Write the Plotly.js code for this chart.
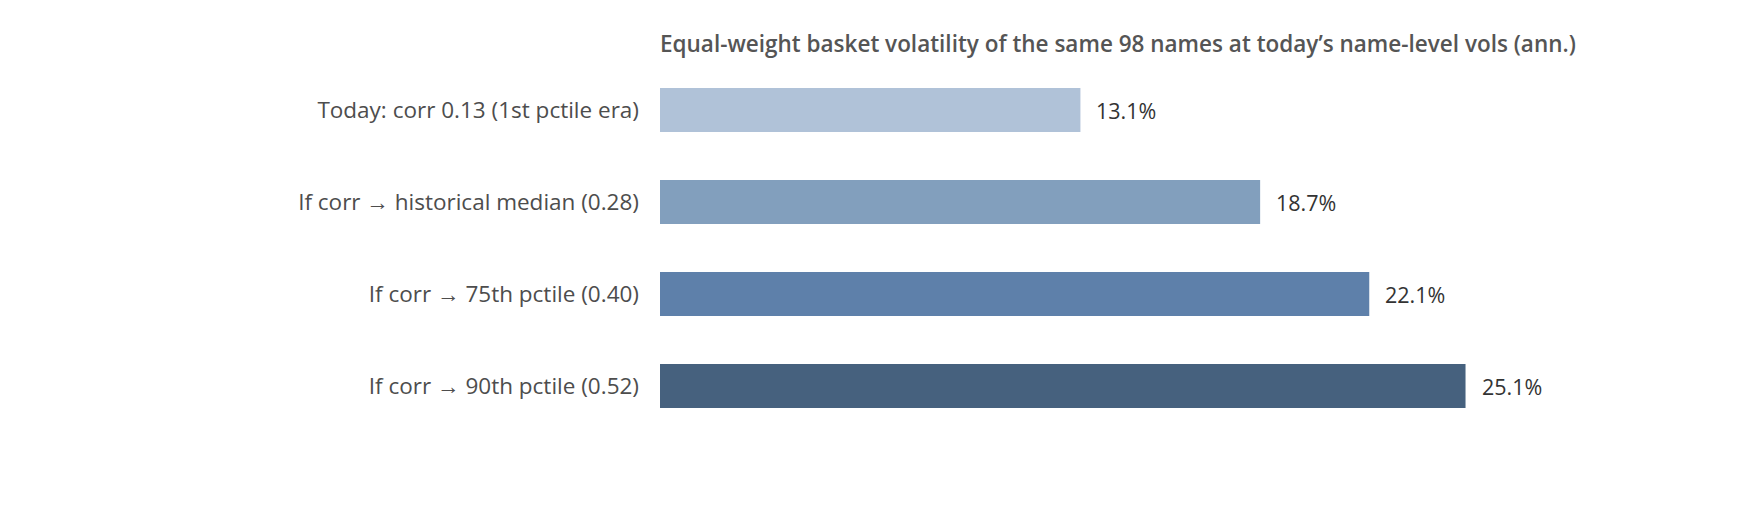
<!DOCTYPE html>
<html>
<head>
<meta charset="utf-8">
<script src="https://cdn.plot.ly/plotly-3.0.1.min.js"></script>
<style>
  html, body { margin: 0; padding: 0; background: #fff; }
  #chart { width: 1760px; height: 520px; }
</style>
</head>
<body>
<div id="chart"></div>
<script>
// scenario labels, top to bottom
const SCENARIOS = [
  'Today: corr 0.13 (1st pctile era)',
  'If corr \u2192 historical median (0.28)',
  'If corr \u2192 75th pctile (0.40)',
  'If corr \u2192 90th pctile (0.52)'
];
// annualised basket vol, %
const BASKET_VOL = [13.1, 18.7, 22.1, 25.1];
const BAR_COLORS = ['#b0c2d8', '#829fbd', '#5e80aa', '#46617e'];

const FONT = '"Open Sans", "Noto Sans", sans-serif';

const trace = {
  type: 'bar',
  orientation: 'h',
  x: BASKET_VOL,
  y: SCENARIOS,
  marker: {color: BAR_COLORS},
  hoverinfo: 'skip'
};

// value labels just past each bar end
const valueLabels = BASKET_VOL.map((v, i) => ({
  x: v,
  y: SCENARIOS[i],
  xref: 'x',
  yref: 'y',
  text: v.toFixed(1) + '%',
  showarrow: false,
  xanchor: 'left',
  yanchor: 'middle',
  xshift: 14,
  font: {family: FONT, size: 21.5, color: '#333'}
}));

const layout = {
  width: 1760,
  height: 520,
  margin: {l: 660, r: 134, t: 64, b: 88},
  paper_bgcolor: '#fff',
  plot_bgcolor: '#fff',
  showlegend: false,
  bargap: 0.52,
  title: {
    text: 'Equal-weight basket volatility of the same 98 names at today\u2019s name-level vols (ann.)',
    x: 0,
    xref: 'paper',
    xanchor: 'left',
    y: 1 - 44 / 520,
    yref: 'container',
    yanchor: 'middle',
    font: {family: FONT, size: 22.5, color: '#555', weight: 600}
  },
  xaxis: {
    range: [0, 30.1],
    showgrid: false,
    zeroline: false,
    showticklabels: false,
    ticks: '',
    showline: false,
    fixedrange: true
  },
  yaxis: {
    autorange: 'reversed',
    showgrid: false,
    zeroline: false,
    showline: false,
    ticks: '',
    ticklabelstandoff: 20,
    tickfont: {family: FONT, size: 22.5, color: '#4d4d4d'},
    fixedrange: true
  },
  annotations: valueLabels
};

Plotly.newPlot('chart', [trace], layout, {displayModeBar: false, staticPlot: true});
</script>
</body>
</html>
